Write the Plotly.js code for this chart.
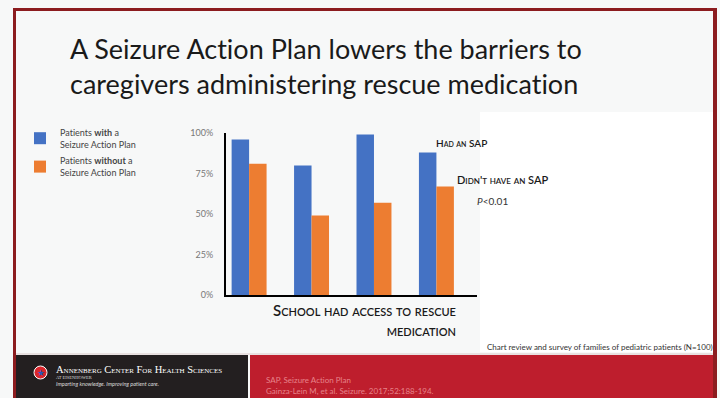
<!DOCTYPE html>
<html>
<head>
<meta charset="utf-8">
<script src="https://cdn.plot.ly/plotly-3.0.1.min.js"></script>
<style>html,body{margin:0;padding:0;background:#f7f8f8;}#chart{width:720px;height:398px;}
text{font-variant-ligatures:none !important;font-feature-settings:"liga" 0,"clig" 0 !important;}</style>
</head>
<body>
<div id="chart"></div>
<script>
// ---- data ----
const categories = ["Q1", "Q2", "Q3", "Q4"];
const withSAP = [96, 80, 99, 88];
const withoutSAP = [81, 49, 57, 67];
const seriesNames = ["Patients <b>with</b> a<br>Seizure Action Plan", "Patients <b>without</b> a<br>Seizure Action Plan"];
const yTickVals = [0, 25, 50, 75, 100];
const yTickText = ["0%", "25%", "50%", "75%", "100%"];

const W = 720, H = 398;
const px = v => v / W;
const py = v => 1 - v / H;

const darkRed = "#8c1c1f";
const traces = [
  {type: "bar", x: categories, y: withSAP, name: seriesNames[0], marker: {color: "#4472C4"}, legendgroup: "a", hoverinfo: "skip"},
  {type: "bar", x: categories, y: withoutSAP, name: seriesNames[1], marker: {color: "#ED7D31"}, legendgroup: "b", hoverinfo: "skip"}
];

const shapes = [
  {type: "rect", xref: "paper", yref: "paper", x0: px(480), x1: px(713), y0: py(352), y1: py(112), fillcolor: "#ffffff", line: {width: 0}, layer: "below"},
  {type: "rect", xref: "paper", yref: "paper", x0: px(14), x1: px(248), y0: 0, y1: py(355), fillcolor: "#231f20", line: {width: 0}, layer: "below"},
  {type: "rect", xref: "paper", yref: "paper", x0: px(250), x1: px(714), y0: 0, y1: py(355), fillcolor: "#be1e2d", line: {width: 0}, layer: "below"},
  {type: "line", xref: "paper", yref: "paper", x0: px(14), x1: px(714), y0: py(354), y1: py(354), line: {color: "#d9c9c9", width: 1}, layer: "below"},
  {type: "rect", xref: "paper", yref: "paper", x0: px(13), x1: px(717), y0: py(11), y1: py(8), fillcolor: darkRed, line: {width: 0}},
  {type: "rect", xref: "paper", yref: "paper", x0: px(13), x1: px(16), y0: 0, y1: py(8), fillcolor: darkRed, line: {width: 0}},
  {type: "rect", xref: "paper", yref: "paper", x0: px(713), x1: px(717), y0: 0, y1: py(8), fillcolor: darkRed, line: {width: 0}},
  {type: "circle", xref: "paper", yref: "paper", x0: px(34), x1: px(47), y0: py(379), y1: py(366), fillcolor: "#d9262c", line: {color: "#ffffff", width: 1}}
];

const sc = {family: "Lato, 'Open Sans', sans-serif", size: 15, color: "#1a1a1a", variant: "small-caps", weight: 600};
const annotations = [
  {xref: "paper", yref: "paper", x: px(68), y: py(66), xanchor: "left", yanchor: "middle", align: "left", showarrow: false,
   text: "A Seizure Action Plan lowers the barriers to<br>caregivers administering rescue medication",
   font: {family: "Lato, 'Open Sans', sans-serif", size: 27, color: "#1a1a1a"}},
  {xref: "paper", yref: "paper", x: px(458), y: py(320), xanchor: "right", yanchor: "middle", align: "right", showarrow: false,
   text: "School had access to rescue<br>medication", font: sc},
  {xref: "paper", yref: "paper", x: px(434), y: py(143), xanchor: "left", yanchor: "middle", showarrow: false,
   text: "Had an SAP", font: Object.assign({}, sc, {size: 10})},
  {xref: "paper", yref: "paper", x: px(455), y: py(179), xanchor: "left", yanchor: "middle", showarrow: false,
   text: "Didn't have an SAP", font: Object.assign({}, sc, {size: 11})},
  {xref: "paper", yref: "paper", x: px(475), y: py(201), xanchor: "left", yanchor: "middle", showarrow: false,
   text: "<i>P</i>&lt;0.01", font: {family: "Lato, sans-serif", size: 10, color: "#333"}},
  {xref: "paper", yref: "paper", x: px(715), y: py(347), xanchor: "right", yanchor: "middle", showarrow: false,
   text: "Chart review and survey of families of pediatric patients (N=100)", font: {family: "Lato, sans-serif", size: 8, color: "#333"}},
  {xref: "paper", yref: "paper", x: px(40.5), y: py(372.5), xanchor: "center", yanchor: "middle", showarrow: false,
   text: "★", font: {family: "DejaVu Sans", size: 9, color: "#2a56b8"}},
  {xref: "paper", yref: "paper", x: px(54), y: py(369), xanchor: "left", yanchor: "middle", showarrow: false,
   text: "Annenberg Center For Health Sciences", font: {family: "'Liberation Serif', serif", size: 10.5, color: "#ffffff", variant: "small-caps"}},
  {xref: "paper", yref: "paper", x: px(54), y: py(377), xanchor: "left", yanchor: "middle", showarrow: false,
   text: "AT EISENHOWER", font: {family: "'Liberation Serif', serif", size: 4.5, color: "#dddddd"}},
  {xref: "paper", yref: "paper", x: px(54), y: py(383.5), xanchor: "left", yanchor: "middle", showarrow: false,
   text: "<i>Imparting knowledge. Improving patient care.</i>", font: {family: "Lato, sans-serif", size: 5.5, color: "#dddddd"}},
  {xref: "paper", yref: "paper", x: px(264), y: py(380), xanchor: "left", yanchor: "middle", showarrow: false,
   text: "SAP, Seizure Action Plan", font: {family: "Lato, sans-serif", size: 8, color: "#e7838a"}},
  {xref: "paper", yref: "paper", x: px(264), y: py(391), xanchor: "left", yanchor: "middle", showarrow: false,
   text: "Gainza-Lein M, et al. Seizure. 2017;52:188-194.", font: {family: "Lato, sans-serif", size: 8, color: "#e7838a"}}
];

const layout = {
  width: W, height: H,
  margin: {l: 0, r: 0, t: 0, b: 0},
  paper_bgcolor: "#f7f8f8",
  plot_bgcolor: "rgba(0,0,0,0)",
  barmode: "group",
  bargap: 0.44,
  bargroupgap: 0,
  showlegend: true,
  legend: {x: px(20), y: py(120), xanchor: "left", yanchor: "top", bgcolor: "rgba(0,0,0,0)",
           font: {family: "Lato, sans-serif", size: 9, color: "#444"}, tracegroupgap: 2, traceorder: "grouped", itemwidth: 30},
  xaxis: {domain: [px(226), px(477)], range: [-0.37, 3.65], showticklabels: false, ticks: "", showgrid: false, zeroline: false,
          showline: true, linecolor: "#000000", linewidth: 2, fixedrange: true},
  yaxis: {domain: [py(295), py(133)], range: [0, 100], tickvals: yTickVals, ticktext: yTickText, showgrid: false, zeroline: false,
          showline: true, linecolor: "#000000", linewidth: 2, ticks: "", ticklabelstandoff: 9,
          tickfont: {family: "Lato, sans-serif", size: 9, color: "#777"}, fixedrange: true},
  shapes: shapes,
  annotations: annotations
};

Plotly.newPlot("chart", traces, layout, {displayModeBar: false, staticPlot: true});
</script>
</body>
</html>
